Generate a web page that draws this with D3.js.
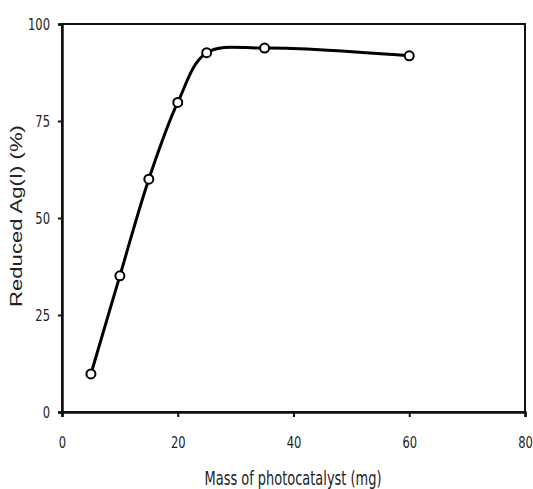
<!DOCTYPE html>
<html>
<head>
<meta charset="utf-8">
<script src="https://cdn.jsdelivr.net/npm/d3@7"></script>
<style>
  body { margin: 0; background: #fff; }
  svg { display: block; }
</style>
</head>
<body>
<div id="chart"></div>
<script>
var massData = [5, 10, 15, 20, 25, 35, 60];
var reducedData = [9.8, 35.1, 60, 79.8, 92.6, 93.8, 91.8];
var xTicks = [0, 20, 40, 60, 80];
var yTicks = [0, 25, 50, 75, 100];

var margin = {top: 24, right: 8, bottom: 77, left: 62};
var width = 533 - margin.left - margin.right,
    height = 489 - margin.top - margin.bottom;

var tickFont = '"Liberation Sans Narrow", "DejaVu Sans Condensed", sans-serif';

var xScale = d3.scaleLinear()
    .domain([0, 80])
    .range([0, width]);

var yScale = d3.scaleLinear()
    .domain([0, 100])
    .range([height, 0]);

var svg = d3.select('#chart').append('svg')
    .attr('width', 533)
    .attr('height', 489);

var g = svg.append('g')
    .attr('transform', 'translate(' + margin.left + ',' + margin.top + ')');

// frame
g.append('rect')
    .attr('x', 0).attr('y', 0)
    .attr('width', width).attr('height', height)
    .style('fill', 'none')
    .style('stroke', '#111')
    .style('stroke-width', 2);

var xAxis = d3.axisBottom(xScale).tickValues(xTicks).tickSize(5).tickPadding(20);
var yAxis = d3.axisLeft(yScale).tickValues(yTicks).tickSize(4).tickPadding(8);

var xGuide = g.append('g')
    .attr('transform', 'translate(0,' + height + ')')
    .call(xAxis);
var yGuide = g.append('g').call(yAxis);

[xGuide, yGuide].forEach(function(ax) {
  ax.select('.domain').style('stroke', '#111').style('stroke-width', 2.5);
  ax.selectAll('line').style('stroke', '#111').style('stroke-width', 2);
  // the original digits are condensed, so squeeze them sideways
  ax.selectAll('text')
    .style('font-family', tickFont)
    .style('font-size', '16px')
    .style('fill', '#222')
    .attr('transform', 'scale(0.8,1)')
    .attr('x', function() {
      var x = +d3.select(this).attr('x');
      return x ? x / 0.8 : null;
    });
});

var line = d3.line()
    .x(function(d, i) { return xScale(massData[i]); })
    .y(function(d) { return yScale(d); })
    .curve(d3.curveCatmullRom.alpha(0.5));

g.append('path')
    .datum(reducedData)
    .attr('d', line)
    .style('fill', 'none')
    .style('stroke', '#000')
    .style('stroke-width', 3);

g.selectAll('circle').data(reducedData)
  .enter()
    .append('circle')
    .attr('cx', function(d, i) { return xScale(massData[i]); })
    .attr('cy', function(d) { return yScale(d); })
    .attr('r', 4.5)
    .style('fill', '#fff')
    .style('stroke', '#000')
    .style('stroke-width', 2);

// axis titles
svg.append('text')
    .attr('x', 293)
    .attr('y', 485)
    .attr('text-anchor', 'middle')
    .attr('textLength', 177)
    .attr('lengthAdjust', 'spacingAndGlyphs')
    .style('font-family', tickFont)
    .style('font-size', '20px')
    .style('fill', '#222')
    .text('Mass of photocatalyst (mg)');

svg.append('text')
    .attr('transform', 'translate(22,216) rotate(-90)')
    .attr('text-anchor', 'middle')
    .attr('textLength', 182)
    .attr('lengthAdjust', 'spacingAndGlyphs')
    .style('font-family', '"Liberation Sans", Arial, sans-serif')
    .style('font-size', '17px')
    .style('fill', '#222')
    .text('Reduced Ag(I) (%)');
</script>
</body>
</html>
